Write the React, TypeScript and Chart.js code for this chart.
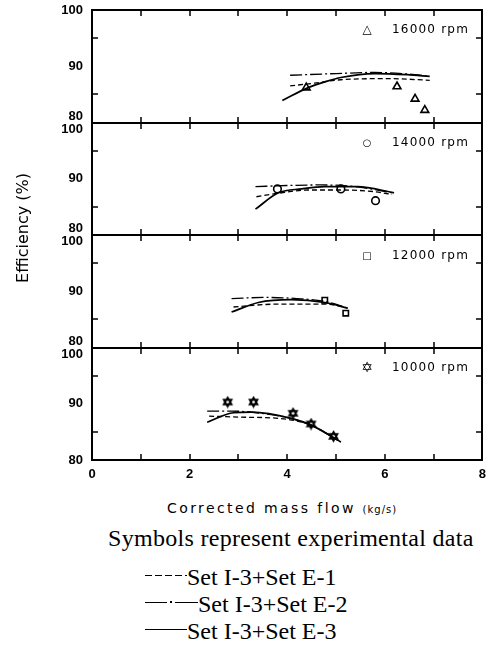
import React, { useEffect, useRef } from 'react';
import { Chart, registerables } from 'chart.js';

Chart.register(...registerables);

// ---------- Panel labels (top to bottom) ----------
const speedLabels = ['16000 rpm', '14000 rpm', '12000 rpm', '10000 rpm'];
const speedSymbols = ['\u25B3', '\u25CB', '\u25A1', '\u2721'];
const speedSymbolSizes = [12, 10, 10, 14];
const panelIds = ['y16000', 'y14000', 'y12000', 'y10000'];

// ---------- Axis tick values ----------
const xTickMarks = [1, 2, 3, 4, 5, 6, 7];
const yTickMarks = [85, 95];

// ---------- 16000 rpm ----------
const exp16000X = [4.39, 6.25, 6.62, 6.82];
const exp16000Y = [86.2, 86.4, 84.2, 82.2];
const e1_16000X = [4.06, 4.56, 5.1, 6.1, 6.92];
const e1_16000Y = [86.5, 87.0, 87.6, 87.8, 87.5];
const e2_16000X = [4.06, 5.0, 5.8, 6.5, 6.92];
const e2_16000Y = [88.4, 88.7, 88.9, 88.6, 88.2];
const e3_16000X = [3.9, 4.43, 4.8, 5.1, 5.79, 6.46, 6.92];
const e3_16000Y = [83.9, 86.2, 87.3, 88.0, 88.7, 88.5, 88.2];

// ---------- 14000 rpm ----------
const exp14000X = [3.8, 5.1, 5.81];
const exp14000Y = [88.2, 88.2, 86.1];
const e1_14000X = [3.37, 3.8, 4.43, 5.1, 5.79, 6.15];
const e1_14000Y = [86.8, 87.4, 88.0, 88.0, 87.7, 87.2];
const e2_14000X = [3.35, 4.0, 4.69, 5.4, 6.15];
const e2_14000Y = [88.6, 88.8, 88.9, 88.6, 87.5];
const e3_14000X = [3.35, 3.82, 4.3, 4.77, 5.44, 6.19];
const e3_14000Y = [84.6, 87.5, 88.2, 88.6, 88.6, 87.5];

// ---------- 12000 rpm ----------
const exp12000X = [4.77, 5.2];
const exp12000Y = [88.4, 86.1];
const e1_12000X = [2.9, 3.3, 3.75, 4.77, 5.18];
const e1_12000Y = [87.2, 87.5, 87.7, 87.7, 87.2];
const e2_12000X = [2.86, 3.55, 4.2, 4.77, 5.24];
const e2_12000Y = [88.7, 88.9, 88.7, 88.2, 87.0];
const e3_12000X = [2.86, 3.41, 4.08, 4.77, 5.24];
const e3_12000Y = [86.3, 88.0, 88.5, 88.0, 87.0];

// ---------- 10000 rpm ----------
const exp10000X = [2.78, 3.31, 4.12, 4.49, 4.95];
const exp10000Y = [90.3, 90.3, 88.3, 86.4, 84.2];
const e1_10000X = [2.4, 3.15, 3.82, 4.49, 5.1];
const e1_10000Y = [87.8, 87.6, 87.4, 86.2, 83.2];
const e2_10000X = [2.36, 2.86, 3.27, 4.08, 4.49, 5.1];
const e2_10000Y = [88.7, 88.7, 88.5, 87.4, 86.2, 83.2];
const e3_10000X = [2.36, 2.9, 3.27, 4.08, 4.49, 5.1];
const e3_10000Y = [86.7, 88.4, 88.5, 87.4, 86.2, 83.2];

const pts = (xs: number[], ys: number[]) => xs.map((x, i) => ({ x, y: ys[i] }));

function makeHexagram(r: number): HTMLCanvasElement {
  const size = Math.ceil(r * 2 + 4);
  const c = document.createElement('canvas');
  c.width = size;
  c.height = size;
  const g = c.getContext('2d')!;
  const cx = size / 2;
  const cy = size / 2;
  g.strokeStyle = '#000';
  g.lineWidth = 1.8;
  for (const rot of [-Math.PI / 2, Math.PI / 2]) {
    g.beginPath();
    for (let k = 0; k < 3; k++) {
      const a = rot + (k * 2 * Math.PI) / 3;
      const px = cx + r * Math.cos(a);
      const py = cy + r * Math.sin(a);
      if (k === 0) g.moveTo(px, py);
      else g.lineTo(px, py);
    }
    g.closePath();
    g.stroke();
  }
  return c;
}

const framePlugin = {
  id: 'panelFrames',
  afterDatasetsDraw(chart: any) {
    const { ctx, chartArea, scales } = chart;
    const xs = scales.x;
    const L = Math.round(chartArea.left);
    const R = Math.round(chartArea.right);
    ctx.save();
    ctx.strokeStyle = '#000';
    ctx.lineWidth = 2;
    ctx.strokeRect(L, Math.round(chartArea.top), R - L, Math.round(chartArea.bottom) - Math.round(chartArea.top));
    ctx.beginPath();
    panelIds.forEach((id, i) => {
      if (i === 0) return;
      const yb = Math.round(scales[id].top);
      ctx.moveTo(L, yb);
      ctx.lineTo(R, yb);
    });
    ctx.stroke();
    ctx.lineWidth = 1.5;
    ctx.beginPath();
    panelIds.forEach((id) => {
      const s = scales[id];
      const top = Math.round(s.top);
      const bottom = Math.round(s.bottom);
      xTickMarks.forEach((v) => {
        const px = Math.round(xs.getPixelForValue(v));
        ctx.moveTo(px, top);
        ctx.lineTo(px, top + 6);
        ctx.moveTo(px, bottom - 6);
        ctx.lineTo(px, bottom);
      });
      yTickMarks.forEach((v) => {
        const py = Math.round(s.getPixelForValue(v));
        ctx.moveTo(L, py);
        ctx.lineTo(L + 6, py);
        ctx.moveTo(R - 6, py);
        ctx.lineTo(R, py);
      });
    });
    ctx.stroke();
    ctx.restore();
  },
};

const tickFont = { family: "'Liberation Sans', Arial, sans-serif", size: 13, weight: 'bold' as const, lineHeight: 1 };

const yTickLabel = (panel: number) => (value: any) => {
  const v = Number(value);
  if (v === 100) return panel === 0 ? '100' : ['', '100'];
  if (v === 80) return panel === 3 ? '80' : ['80', ''];
  return String(v);
};

function ChartCanvas() {
  const ref = useRef<HTMLCanvasElement | null>(null);
  useEffect(() => {
    if (!ref.current) return;
    const hex = makeHexagram(4.5);
    const lineDs = (xs: number[], ys: number[], axis: string, dash: number[], width: number) => ({
      data: pts(xs, ys),
      yAxisID: axis,
      xAxisID: 'x',
      showLine: true,
      borderColor: '#000',
      borderWidth: width,
      borderDash: dash,
      pointRadius: 0,
      fill: false,
      cubicInterpolationMode: 'monotone' as const,
    });
    const expDs = (xs: number[], ys: number[], axis: string, style: any, radius: number) => ({
      data: pts(xs, ys),
      yAxisID: axis,
      xAxisID: 'x',
      showLine: false,
      pointStyle: style,
      pointRadius: radius,
      pointBorderWidth: 1.6,
      pointBorderColor: '#000',
      pointBackgroundColor: 'rgba(255,255,255,0)',
    });
    const dashE1 = [5, 3];
    const dashE2 = [12, 3, 2, 3];
    const datasets: any[] = [
      lineDs(e1_16000X, e1_16000Y, 'y16000', dashE1, 1.3),
      lineDs(e2_16000X, e2_16000Y, 'y16000', dashE2, 1.3),
      lineDs(e3_16000X, e3_16000Y, 'y16000', [], 1.7),
      expDs(exp16000X, exp16000Y, 'y16000', 'triangle', 4.5),
      lineDs(e1_14000X, e1_14000Y, 'y14000', dashE1, 1.3),
      lineDs(e2_14000X, e2_14000Y, 'y14000', dashE2, 1.3),
      lineDs(e3_14000X, e3_14000Y, 'y14000', [], 1.7),
      expDs(exp14000X, exp14000Y, 'y14000', 'circle', 3.8),
      lineDs(e1_12000X, e1_12000Y, 'y12000', dashE1, 1.3),
      lineDs(e2_12000X, e2_12000Y, 'y12000', dashE2, 1.3),
      lineDs(e3_12000X, e3_12000Y, 'y12000', [], 1.7),
      expDs(exp12000X, exp12000Y, 'y12000', 'rect', 3.8),
      lineDs(e1_10000X, e1_10000Y, 'y10000', dashE1, 1.3),
      lineDs(e2_10000X, e2_10000Y, 'y10000', dashE2, 1.3),
      lineDs(e3_10000X, e3_10000Y, 'y10000', [], 1.7),
      expDs(exp10000X, exp10000Y, 'y10000', hex, 5),
    ];
    const yScale = (panel: number) => ({
      type: 'linear' as const,
      position: 'left' as const,
      stack: 'panels',
      stackWeight: 1,
      weight: 4 - panel,
      min: 80,
      max: 100,
      grid: { display: false, drawTicks: false },
      border: { display: false },
      ticks: {
        stepSize: 10,
        autoSkip: false,
        padding: 9,
        color: '#000',
        font: tickFont,
        callback: yTickLabel(panel),
      },
      afterFit: (s: any) => {
        s.width = 55;
        s.paddingTop = 0;
        s.paddingBottom = 0;
      },
    });
    const chart = new Chart(ref.current, {
      type: 'scatter',
      data: { datasets },
      options: {
        animation: false,
        responsive: false,
        devicePixelRatio: 1,
        layout: { padding: { top: 10, left: 37, right: 3, bottom: 0 } },
        plugins: { legend: { display: false }, tooltip: { enabled: false } },
        scales: {
          x: {
            type: 'linear',
            position: 'bottom',
            min: 0,
            max: 8,
            grid: { display: false, drawTicks: false },
            border: { display: false },
            ticks: { stepSize: 2, padding: 8, color: '#000', font: tickFont, autoSkip: false },
            afterFit: (s: any) => {
              s.height = 30;
              s.paddingLeft = 0;
              s.paddingRight = 0;
            },
          },
          y16000: yScale(0),
          y14000: yScale(1),
          y12000: yScale(2),
          y10000: yScale(3),
        } as any,
      },
      plugins: [framePlugin],
    });
    return () => chart.destroy();
  }, []);
  return (
    <canvas
      ref={ref}
      width={489}
      height={490}
      style={{ position: 'absolute', left: 0, top: 0, width: 489, height: 490 }}
    />
  );
}

const panelLabelY = [29, 142, 255, 367];

export default function App() {
  const sans = "'DejaVu Sans', sans-serif";
  const serif = "'Liberation Serif', 'Times New Roman', serif";
  const legendRow = (top: number, sample: React.ReactNode, text: string) => (
    <div
      style={{
        position: 'absolute',
        left: 145,
        top: top - 14,
        height: 28,
        display: 'flex',
        alignItems: 'center',
        fontFamily: serif,
        fontSize: 24,
        whiteSpace: 'nowrap',
        color: '#000',
      }}
    >
      <span style={{ position: 'relative', top: -2, display: 'inline-flex', alignItems: 'center' }}>{sample}</span>
      <span>{text}</span>
    </div>
  );
  const bar = (w: number, extra: React.CSSProperties = {}) => (
    <span style={{ display: 'inline-block', width: w, height: 1, background: '#000', ...extra }} />
  );
  return (
    <div style={{ position: 'absolute', left: 0, top: 0, width: 489, height: 645, background: '#fff', overflow: 'hidden' }}>
      <ChartCanvas />
      {speedLabels.map((lab, i) => (
        <div
          key={lab}
          style={{
            position: 'absolute',
            left: 358,
            top: panelLabelY[i] - 10,
            height: 20,
            display: 'flex',
            alignItems: 'center',
            fontFamily: sans,
            fontSize: 12,
            color: '#000',
            whiteSpace: 'nowrap',
          }}
        >
          <span
            style={{
              display: 'inline-block',
              width: 18,
              textAlign: 'center',
              fontSize: speedSymbolSizes[i],
              fontWeight: 'bold',
            }}
          >
            {speedSymbols[i]}
          </span>
          <span style={{ marginLeft: 16, letterSpacing: 1.2 }}>{lab}</span>
        </div>
      ))}
      <div
        style={{
          position: 'absolute',
          left: 23 - 80,
          top: 228 - 10,
          width: 160,
          height: 20,
          lineHeight: '20px',
          textAlign: 'center',
          transform: 'rotate(-90deg)',
          fontFamily: sans,
          fontSize: 16,
          color: '#000',
          whiteSpace: 'nowrap',
        }}
      >
        Efficiency (%)
      </div>
      <div
        style={{
          position: 'absolute',
          left: 167,
          top: 508 - 10,
          height: 20,
          lineHeight: '20px',
          fontFamily: sans,
          fontSize: 14,
          letterSpacing: 2.4,
          color: '#000',
          whiteSpace: 'nowrap',
        }}
      >
        Corrected mass flow <span style={{ fontSize: 10, letterSpacing: 1 }}>(kg/s)</span>
      </div>
      <div
        style={{
          position: 'absolute',
          left: 108,
          top: 538 - 14,
          height: 28,
          lineHeight: '28px',
          fontFamily: serif,
          fontSize: 24,
          letterSpacing: 0.3,
          color: '#000',
          whiteSpace: 'nowrap',
        }}
      >
        Symbols represent experimental data
      </div>
      {legendRow(
        577,
        <span
          style={{
            display: 'inline-block',
            width: 42,
            height: 1,
            background: 'repeating-linear-gradient(to right, #000 0 7px, transparent 7px 10px)',
          }}
        />,
        'Set I-3+Set E-1'
      )}
      {legendRow(
        604,
        <span style={{ display: 'inline-flex', alignItems: 'center', width: 53 }}>
          {bar(22)}
          {bar(2, { height: 2, marginLeft: 3, marginRight: 3 })}
          {bar(23)}
        </span>,
        'Set I-3+Set E-2'
      )}
      {legendRow(631, bar(42), 'Set I-3+Set E-3')}
    </div>
  );
}
